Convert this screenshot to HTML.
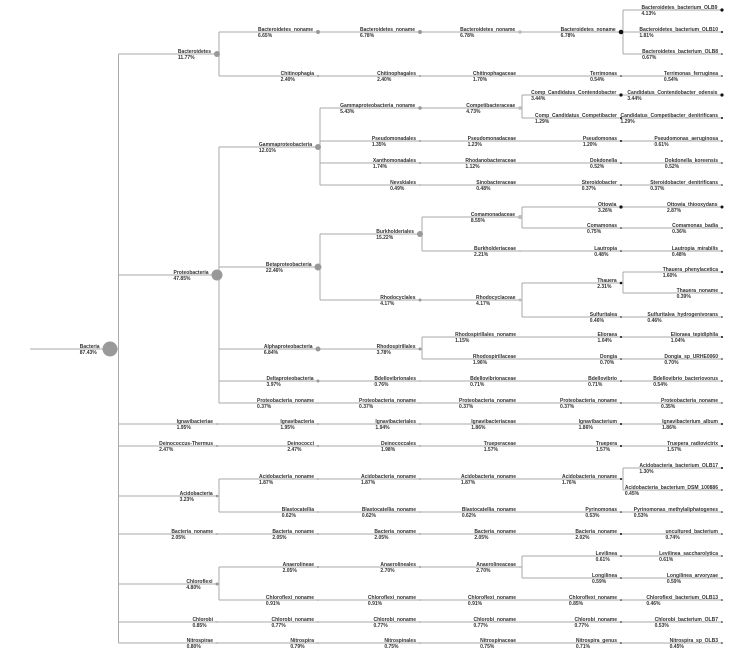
<!DOCTYPE html>
<html><head><meta charset="utf-8"><style>
html,body{margin:0;padding:0;background:#fff;width:747px;height:658px;overflow:hidden}
#w{position:relative;width:747px;height:658px}
svg{position:absolute;left:0;top:0}
.l{position:absolute;font-family:"Liberation Sans",sans-serif;font-size:5px;line-height:6px;font-weight:bold;color:#333;white-space:nowrap;text-align:left;transform:translate(-100%,-50%)}
</style></head><body><div id="w"><svg id="s" width="747" height="658"></svg></div>
<script>
var X=[110,217,318,420,520,621,722];
// [id,parent,level,y,name,pct,r]
var D=[
[0,-1,0,349,"Bacteria","87.43%",7.5],
[1,0,1,54,"Bacteroidetes","11.77%",3],
[2,1,2,32,"Bacteroidetes_noname","6.65%",2],
[3,2,3,32,"Bacteroidetes_noname","6.78%",2],
[4,3,4,32,"Bacteroidetes_noname","6.78%",1.8],
[5,4,5,32,"Bacteroidetes_noname","6.78%",2.3],
[6,5,6,10,"Bacteroidetes_bacterium_OLB9","4.13%",1.6],
[7,5,6,32,"Bacteroidetes_bacterium_OLB10","1.81%",1],
[8,5,6,54,"Bacteroidetes_bacterium_OLB8","0.67%",0.8],
[9,1,2,76,"Chitinophagia","2.40%",1],
[10,9,3,76,"Chitinophagales","2.40%",1],
[11,10,4,76,"Chitinophagaceae","1.70%",0.9],
[12,11,5,76,"Terrimonas","0.54%",0.8],
[13,12,6,76,"Terrimonas_ferruginea","0.54%",0.8],
[14,0,1,275,"Proteobacteria","47.85%",5.5],
[15,14,2,147,"Gammaproteobacteria","12.01%",3],
[16,15,3,108,"Gammaproteobacteria_noname","5.43%",1.8],
[17,16,4,108,"Competibacteraceae","4.73%",1.8],
[18,17,5,95,"Comp_Candidatus_Contendobacter","3.44%",1.6],
[19,18,6,95,"Candidatus_Contendobacter_odensis","3.44%",1.6],
[20,17,5,118,"Comp_Candidatus_Competibacter","1.29%",1],
[21,20,6,118,"Candidatus_Competibacter_denitrificans","1.29%",1],
[22,15,3,141,"Pseudomonadales","1.35%",1],
[23,22,4,141,"Pseudomonadaceae","1.23%",0.9],
[24,23,5,141,"Pseudomonas","1.20%",1],
[25,24,6,141,"Pseudomonas_aeruginosa","0.61%",0.8],
[26,15,3,163,"Xanthomonadales","1.74%",1],
[27,26,4,163,"Rhodanobacteraceae","1.12%",0.9],
[28,27,5,163,"Dokdonella","0.52%",0.8],
[29,28,6,163,"Dokdonella_koreensis","0.52%",0.8],
[30,15,3,185,"Nevskiales","0.49%",0.8],
[31,30,4,185,"Sinobacteraceae","0.48%",0.8],
[32,31,5,185,"Steroidobacter","0.37%",0.8],
[33,32,6,185,"Steroidobacter_denitrificans","0.37%",0.8],
[34,14,2,267,"Betaproteobacteria","22.46%",3.5],
[35,34,3,234,"Burkholderiales","15.22%",3],
[36,35,4,217,"Comamonadaceae","8.55%",2],
[37,36,5,207,"Ottowia","3.26%",1.6],
[38,37,6,207,"Ottowia_thiooxydans","2.87%",1.5],
[39,36,5,228,"Comamonas","0.75%",0.8],
[40,39,6,228,"Comamonas_badia","0.36%",0.8],
[41,35,4,251,"Burkholderiaceae","2.21%",1],
[42,41,5,251,"Lautropia","0.48%",0.8],
[43,42,6,251,"Lautropia_mirabilis","0.48%",0.8],
[44,34,3,300,"Rhodocyclales","4.17%",1.5],
[45,44,4,300,"Rhodocyclaceae","4.17%",1.5],
[46,45,5,283,"Thauera","2.31%",1.3],
[47,46,6,272,"Thauera_phenylacetica","1.60%",1],
[48,46,6,293,"Thauera_noname","0.39%",0.8],
[49,45,5,317,"Sulfuritalea","0.46%",0.8],
[50,49,6,317,"Sulfuritalea_hydrogenivorans","0.46%",0.8],
[51,14,2,349,"Alphaproteobacteria","6.84%",2.5],
[52,51,3,349,"Rhodospirillales","3.78%",1.5],
[53,52,4,337,"Rhodospirillales_noname","1.15%",0.9],
[54,53,5,337,"Elioraea","1.04%",1],
[55,54,6,337,"Elioraea_tepidiphila","1.04%",1],
[56,52,4,359,"Rhodospirillaceae","1.96%",0.9],
[57,56,5,359,"Dongia","0.70%",0.8],
[58,57,6,359,"Dongia_sp_URHE0060","0.70%",0.8],
[59,14,2,381,"Deltaproteobacteria","3.97%",1.5],
[60,59,3,381,"Bdellovibrionales","0.76%",0.8],
[61,60,4,381,"Bdellovibrionaceae","0.71%",0.8],
[62,61,5,381,"Bdellovibrio","0.71%",0.8],
[63,62,6,381,"Bdellovibrio_bacteriovorus","0.54%",0.8],
[64,14,2,403,"Proteobacteria_noname","0.37%",0.6],
[65,64,3,403,"Proteobacteria_noname","0.37%",0.6],
[66,65,4,403,"Proteobacteria_noname","0.37%",0.6],
[67,66,5,403,"Proteobacteria_noname","0.37%",0.7],
[68,67,6,403,"Proteobacteria_noname","0.35%",0.7],
[69,0,1,424,"Ignavibacteriae","1.95%",0.9],
[70,69,2,424,"Ignavibacteria","1.95%",0.9],
[71,70,3,424,"Ignavibacteriales","1.94%",0.9],
[72,71,4,424,"Ignavibacteriaceae","1.86%",0.9],
[73,72,5,424,"Ignavibacterium","1.86%",1],
[74,73,6,424,"Ignavibacterium_album","1.86%",1],
[75,0,1,446,"Deinococcus-Thermus","2.47%",1],
[76,75,2,446,"Deinococci","2.47%",1],
[77,76,3,446,"Deinococcales","1.98%",0.9],
[78,77,4,446,"Trueperaceae","1.57%",0.9],
[79,78,5,446,"Truepera","1.57%",1],
[80,79,6,446,"Truepera_radiovictrix","1.57%",1],
[81,0,1,496,"Acidobacteria","3.23%",1.3],
[82,81,2,479,"Acidobacteria_noname","1.87%",0.9],
[83,82,3,479,"Acidobacteria_noname","1.87%",0.9],
[84,83,4,479,"Acidobacteria_noname","1.87%",0.9],
[85,84,5,479,"Acidobacteria_noname","1.76%",1],
[86,85,6,468,"Acidobacteria_bacterium_OLB17","1.30%",1],
[87,85,6,490,"Acidobacteria_bacterium_DSM_100886","0.45%",0.8],
[88,81,2,512,"Blastocatellia","0.62%",0.8],
[89,88,3,512,"Blastocatellia_noname","0.62%",0.8],
[90,89,4,512,"Blastocatellia_noname","0.62%",0.8],
[91,90,5,512,"Pyrinomonas","0.53%",0.8],
[92,91,6,512,"Pyrinomonas_methylaliphatogenes","0.53%",0.8],
[93,0,1,534,"Bacteria_noname","2.05%",0.9],
[94,93,2,534,"Bacteria_noname","2.05%",0.9],
[95,94,3,534,"Bacteria_noname","2.05%",0.9],
[96,95,4,534,"Bacteria_noname","2.05%",0.9],
[97,96,5,534,"Bacteria_noname","2.02%",1],
[98,97,6,534,"uncultured_bacterium","0.74%",0.8],
[99,0,1,584,"Chloroflexi","4.80%",1.5],
[100,99,2,567,"Anaerolineae","2.05%",1],
[101,100,3,567,"Anaerolineales","2.70%",1],
[102,101,4,567,"Anaerolineaceae","2.70%",1],
[103,102,5,556,"Levilinea","0.61%",0.8],
[104,103,6,556,"Levilinea_saccharolytica","0.61%",0.8],
[105,102,5,578,"Longilinea","0.59%",0.8],
[106,105,6,578,"Longilinea_arvoryzae","0.59%",0.8],
[107,99,2,600,"Chloroflexi_noname","0.91%",0.8],
[108,107,3,600,"Chloroflexi_noname","0.91%",0.8],
[109,108,4,600,"Chloroflexi_noname","0.91%",0.8],
[110,109,5,600,"Chloroflexi_noname","0.85%",0.8],
[111,110,6,600,"Chloroflexi_bacterium_OLB13","0.46%",0.8],
[112,0,1,622,"Chlorobi","0.85%",0.8],
[113,112,2,622,"Chlorobi_noname","0.77%",0.8],
[114,113,3,622,"Chlorobi_noname","0.77%",0.8],
[115,114,4,622,"Chlorobi_noname","0.77%",0.8],
[116,115,5,622,"Chlorobi_noname","0.77%",0.8],
[117,116,6,622,"Chlorobi_bacterium_OLB7","0.53%",0.8],
[118,0,1,643,"Nitrospirae","0.80%",0.8],
[119,118,2,643,"Nitrospira","0.79%",0.8],
[120,119,3,643,"Nitrospinales","0.75%",0.8],
[121,120,4,643,"Nitrospinaceae","0.75%",0.8],
[122,121,5,643,"Nitrospira_genus","0.71%",0.8],
[123,122,6,643,"Nitrospira_sp_OLB3","0.45%",0.8]
];
var s='',h='',ch={};
D.forEach(function(d){if(d[1]>=0){(ch[d[1]]=ch[d[1]]||[]).push(d);}});
s+='<line x1="30" y1="349" x2="103" y2="349" stroke="#aaa" stroke-width="1"/>';
D.forEach(function(d){
 var c=ch[d[0]];if(!c)return;
 var vx=X[d[2]]+(d[2]==0?8.5:2);
 var ys=c.map(function(e){return e[3]});
 var mn=Math.min.apply(0,ys.concat([d[3]])),mx=Math.max.apply(0,ys.concat([d[3]]));
 s+='<line x1="'+X[d[2]]+'" y1="'+d[3]+'" x2="'+vx+'" y2="'+d[3]+'" stroke="#aaa" stroke-width="1"/>';
 if(mx>mn)s+='<line x1="'+vx+'" y1="'+mn+'" x2="'+vx+'" y2="'+mx+'" stroke="#aaa" stroke-width="1"/>';
 c.forEach(function(e){s+='<line x1="'+vx+'" y1="'+e[3]+'" x2="'+X[e[2]]+'" y2="'+e[3]+'" stroke="#aaa" stroke-width="1"/>';});
});
D.forEach(function(d){
 var col=d[2]>=5?'#111':(d[2]==4?'#bbb':'#999');
 s+='<circle cx="'+X[d[2]]+'" cy="'+d[3]+'" r="'+d[6]+'" fill="'+col+'"/>';
 var lx=X[d[2]]-Math.max(d[6],1)-3;
 h+='<div class="l" style="left:'+lx+'px;top:'+(d[3]+0.5)+'px">'+d[4]+'<br>'+d[5]+'</div>';
});
document.getElementById('s').innerHTML=s;
document.getElementById('w').insertAdjacentHTML('beforeend',h);
</script></body></html>
